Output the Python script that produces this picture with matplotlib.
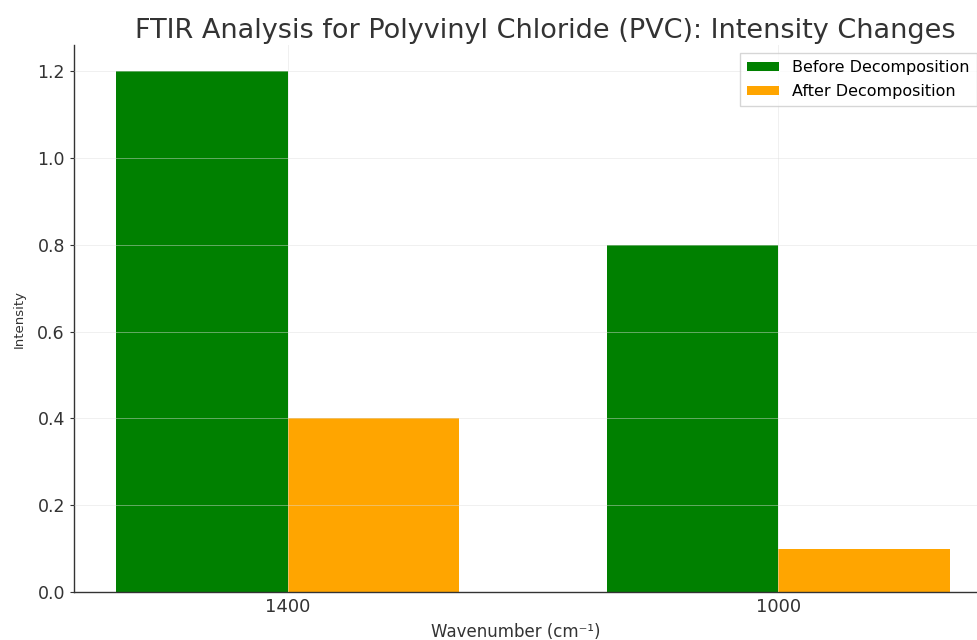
import matplotlib
matplotlib.use("Agg")
import matplotlib.pyplot as plt
import numpy as np

categories = ["1400", "1000"]
before = [1.2, 0.8]
after = [0.4, 0.1]
series_labels = ["Before Decomposition", "After Decomposition"]
title = "FTIR Analysis for Polyvinyl Chloride (PVC): Intensity Changes"

W, H = 977, 640
fig = plt.figure(figsize=(W / 100, H / 100), dpi=100)
ax = fig.add_axes([74 / W, (H - 592) / H, (992 - 74) / W, (592 - 45) / H])

x = np.arange(len(categories))
width = 0.35
ax.bar(x - width / 2, before, width, color="green", label=series_labels[0])
ax.bar(x + width / 2, after, width, color="orange", label=series_labels[1])

ax.set_xticks(x)
ax.set_xticklabels(categories)
ax.set_xlim(-0.435, 1.435)
ax.set_ylim(0, 1.26)
ax.set_yticks([0.0, 0.2, 0.4, 0.6, 0.8, 1.0, 1.2])

ax.set_axisbelow(False)
ax.grid(True, color="#dddddd", linewidth=0.7, alpha=0.45)

for s in ["top", "right"]:
    ax.spines[s].set_visible(False)
for s in ["left", "bottom"]:
    ax.spines[s].set_color("#333333")
    ax.spines[s].set_linewidth(1.0)

ax.tick_params(axis="y", labelsize=12.5, colors="#333333", length=3, width=0.8)
ax.tick_params(axis="x", labelsize=13, colors="#333333", length=0, pad=4)

ax.set_ylabel("Intensity", fontsize=9.5, color="#333333", labelpad=8)
fig.text(516 / W, 1 - 632 / H, "Wavenumber (cm⁻¹)", fontsize=12, ha="center",
         va="center", color="#333333")
fig.text(545 / W, 1 - 31 / H, title, fontsize=19.5, ha="center", va="center", color="#333333")

ax.legend(loc="upper left", bbox_to_anchor=(740 / W, 1 - 53 / H),
          bbox_transform=fig.transFigure, fontsize=11.5, frameon=True, fancybox=False,
          edgecolor="#cccccc", handlelength=2.0, handleheight=0.55,
          handletextpad=0.8, labelspacing=0.55, borderpad=0.45, borderaxespad=0)

fig.savefig("out.png", dpi=100)
